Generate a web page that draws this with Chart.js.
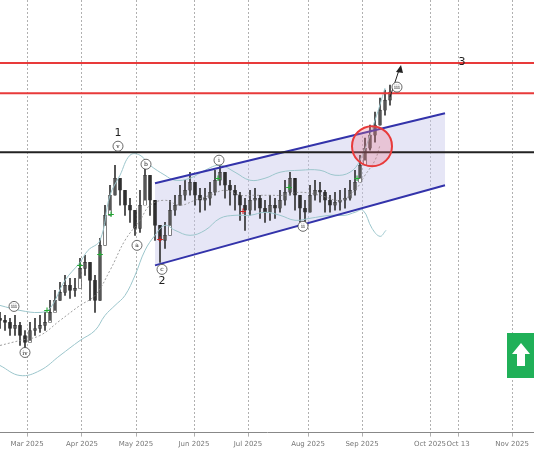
<!DOCTYPE html>
<html>
<head>
<meta charset="utf-8">
<script src="https://cdn.jsdelivr.net/npm/chart.js@4.4.0/dist/chart.umd.min.js"></script>
<style>
html,body{margin:0;padding:0;background:#fff;}
#wrap{width:534px;height:462px;position:relative;}
</style>
</head>
<body>
<div id="wrap"><canvas id="c"></canvas></div>
<script>
// bar positions (x units on the time axis), price in chart units (axis reversed, no visible scale)
const barX = [];
for (let i = 0; i <= 78; i++) barX.push(i * 5);

const closes = [320,322,328,325,335,342,330,328,325,322,312,300,292,285,290,288,268,262,280,300,
245,215,195,178,190,205,210,228,205,175,200,225,240,235,210,205,195,190,182,195,
200,198,192,180,172,185,190,195,205,210,200,198,208,212,205,208,200,192,178,195,
208,212,195,190,192,200,205,202,200,198,190,182,165,148,135,125,110,100,92];
const highs = [312,315,318,315,322,330,322,318,315,312,300,290,282,275,278,278,258,255,262,275,
238,205,185,165,178,190,198,210,190,160,175,205,225,222,200,195,185,180,172,182,
188,188,182,170,162,172,180,185,192,198,190,188,195,200,195,198,190,180,172,180,
195,200,185,180,182,190,195,192,190,188,180,170,155,138,125,112,98,90,85];
const lows = [328,330,335,335,345,350,340,335,332,330,320,310,300,295,298,296,278,275,300,312,
300,225,210,195,205,215,222,235,232,200,215,240,262,248,225,215,205,200,195,205,
212,210,205,195,185,198,205,210,220,230,215,210,218,222,220,218,212,205,195,210,
222,222,212,200,202,212,212,210,210,208,200,195,178,160,150,142,125,115,105];
const opens = [318].concat(closes.slice(0, -1));

const bbX = [0,20,40,50,65,80,88,100,110,120,130,140,150,165,175,190,205,220,235,250,265,280,300,320,335,350,360,375,385];
const bbUpper = [305,310,312,308,280,262,250,240,195,175,155,155,165,175,180,178,170,165,172,180,178,172,170,170,175,172,160,120,88];
const bbLowX = [0,20,40,60,80,95,105,115,125,135,145,155,165,175,190,205,220,235,250,265,280,295,310,330,345,355,363,372,380,386];
const bbLower = [365,375,370,355,340,330,315,305,295,275,250,235,225,230,235,230,218,215,215,212,215,220,218,215,215,212,210,228,236,230];
const bbMidX = [0,20,40,60,80,95,110,125,140,150,165,180,195,210,225,240,255,270,285,300,320,340,355,365,375,380];
const bbMid = [345,340,335,320,305,295,270,240,220,205,200,205,200,195,190,195,195,195,195,192,195,200,190,175,160,145];

const tickPos = [27,82,136,194,248,308,362,430,458,512];
const tickLabels = ["Mar 2025","Apr 2025","May 2025","Jun 2025","Jul 2025","Aug 2025","Sep 2025","Oct 2025","Oct 13","Nov 2025"];

const channelUpper = [[155,183],[445,113]];
const channelLower = [[155,265],[445,185]];
const blackLevel = 152;
const redLevels = [63,93];

const waveLabels = [
  {x:118,y:133,t:"1",big:true},{x:162,y:281,t:"2",big:true},{x:462,y:62,t:"3",big:true},
  {x:118,y:146,t:"v"},{x:146,y:164,t:"b"},{x:137,y:245,t:"a"},{x:162,y:269,t:"c"},
  {x:219,y:160,t:"i"},{x:303,y:226,t:"ii"},{x:397,y:87,t:"iii"},{x:14,y:306,t:"iii"},{x:25,y:352,t:"iv"}
];
const greenMarks = [[47,310],[80,265],[100,254],[111,214],[289,187],[357,178],[218,178]];
const redMarks = [[160,239],[243,211]];

function seg(x, a, b){ return {x:x, y:[a,b]}; }

const wickData = barX.map((x,i)=>seg(x, highs[i], lows[i]));
const bodyData = barX.map((x,i)=>seg(x, opens[i], closes[i] === opens[i] ? closes[i]+1 : closes[i]));
const bodyColors = barX.map((x,i)=> closes[i] < opens[i] ? "#ffffff" : "#222222");

const overlay = {
  id:"overlay",
  beforeDatasetsDraw(chart){
    const {ctx, scales:{x,y}} = chart;
    ctx.save();
    ctx.beginPath();
    ctx.moveTo(x.getPixelForValue(channelUpper[0][0]), y.getPixelForValue(channelUpper[0][1]));
    ctx.lineTo(x.getPixelForValue(channelUpper[1][0]), y.getPixelForValue(channelUpper[1][1]));
    ctx.lineTo(x.getPixelForValue(channelLower[1][0]), y.getPixelForValue(channelLower[1][1]));
    ctx.lineTo(x.getPixelForValue(channelLower[0][0]), y.getPixelForValue(channelLower[0][1]));
    ctx.closePath();
    ctx.fillStyle = "rgba(200,200,235,0.45)";
    ctx.fill();
    ctx.restore();
  },
  afterDatasetsDraw(chart){
    const {ctx, chartArea:a, scales:{x,y}} = chart;
    const px = v=>x.getPixelForValue(v), py = v=>y.getPixelForValue(v);
    ctx.save();
    ctx.strokeStyle = "#3333aa"; ctx.lineWidth = 2;
    [channelUpper, channelLower].forEach(l=>{
      ctx.beginPath(); ctx.moveTo(px(l[0][0]),py(l[0][1])); ctx.lineTo(px(l[1][0]),py(l[1][1])); ctx.stroke();
    });
    ctx.strokeStyle = "#222"; ctx.lineWidth = 2;
    ctx.beginPath(); ctx.moveTo(a.left,py(blackLevel)); ctx.lineTo(a.right,py(blackLevel)); ctx.stroke();
    ctx.strokeStyle = "#e83a3a";
    redLevels.forEach(v=>{ ctx.beginPath(); ctx.moveTo(a.left,py(v)); ctx.lineTo(a.right,py(v)); ctx.stroke(); });
    ctx.beginPath(); ctx.arc(px(372),py(146),20,0,Math.PI*2);
    ctx.fillStyle = "rgba(240,120,140,0.3)"; ctx.fill();
    ctx.strokeStyle = "#e83a3a"; ctx.lineWidth = 2; ctx.stroke();
    ctx.strokeStyle = "#222"; ctx.lineWidth = 1;
    ctx.beginPath(); ctx.moveTo(px(390),py(97)); ctx.lineTo(px(399),py(70)); ctx.stroke();
    ctx.beginPath(); ctx.moveTo(px(401),py(65)); ctx.lineTo(px(396),py(72)); ctx.lineTo(px(403),py(73)); ctx.closePath();
    ctx.fillStyle = "#222"; ctx.fill();
    ctx.font = "bold 9px DejaVu Sans"; ctx.textAlign = "center"; ctx.textBaseline = "middle";
    greenMarks.forEach(m=>{ ctx.fillStyle="#22aa33"; ctx.fillText("+",px(m[0]),py(m[1])); });
    redMarks.forEach(m=>{ ctx.fillStyle="#cc2222"; ctx.fillText("+",px(m[0]),py(m[1])); });
    waveLabels.forEach(w=>{
      const X = px(w.x), Y = py(w.y);
      if (w.big){
        ctx.fillStyle = "#222"; ctx.font = "11px DejaVu Sans"; ctx.fillText(w.t,X,Y);
      } else {
        ctx.beginPath(); ctx.arc(X,Y,5,0,Math.PI*2);
        ctx.fillStyle = "#fff"; ctx.fill(); ctx.strokeStyle = "#444"; ctx.lineWidth = 0.8; ctx.stroke();
        ctx.fillStyle = "#222"; ctx.font = "6px DejaVu Serif"; ctx.fillText(w.t,X,Y+0.5);
      }
    });
    ctx.restore();
    ctx.save();
    ctx.fillStyle = "#20b058"; ctx.fillRect(507,333,27,45);
    ctx.fillStyle = "#fff";
    ctx.beginPath();
    ctx.moveTo(521,343); ctx.lineTo(530,354); ctx.lineTo(525,354); ctx.lineTo(525,366);
    ctx.lineTo(517,366); ctx.lineTo(517,354); ctx.lineTo(512,354); ctx.closePath(); ctx.fill();
    ctx.restore();
  }
};

new Chart(document.getElementById("c"), {
  type:"bar",
  data:{
    datasets:[
      {type:"line", data:bbX.map((x,i)=>({x:x,y:bbUpper[i]})), borderColor:"#9cc6cc", borderWidth:1, pointRadius:0, tension:0.4},
      {type:"line", data:bbLowX.map((x,i)=>({x:x,y:bbLower[i]})), borderColor:"#9cc6cc", borderWidth:1, pointRadius:0, tension:0.4},
      {type:"line", data:bbMidX.map((x,i)=>({x:x,y:bbMid[i]})), borderColor:"#888", borderWidth:0.8, borderDash:[2,2], pointRadius:0, tension:0.4},
      {data:wickData, backgroundColor:"#333", barThickness:1, grouped:false},
      {data:bodyData, backgroundColor:bodyColors, borderColor:"#222", borderWidth:0.6, borderSkipped:false, barThickness:3, grouped:false}
    ]
  },
  options:{
    responsive:true, maintainAspectRatio:false, animation:false,
    layout:{padding:{left:0,right:0,top:0,bottom:11}},
    plugins:{legend:{display:false}, tooltip:{enabled:false}},
    scales:{
      x:{type:"linear", min:0, max:534, offset:false,
        afterBuildTicks(s){ s.ticks = tickPos.map(v=>({value:v})); },
        ticks:{autoSkip:false, maxRotation:0, color:"#777", font:{size:7, family:"DejaVu Sans"},
          callback:(v)=>tickLabels[tickPos.indexOf(v)] ?? ""},
        grid:{offset:false, color:"#b0b0b0", tickLength:4, drawTicks:true},
        border:{color:"#888", dash:[2,2]}
      },
      y:{display:false, reverse:true, min:0, max:432}
    }
  },
  plugins:[overlay]
});
</script>
</body>
</html>
